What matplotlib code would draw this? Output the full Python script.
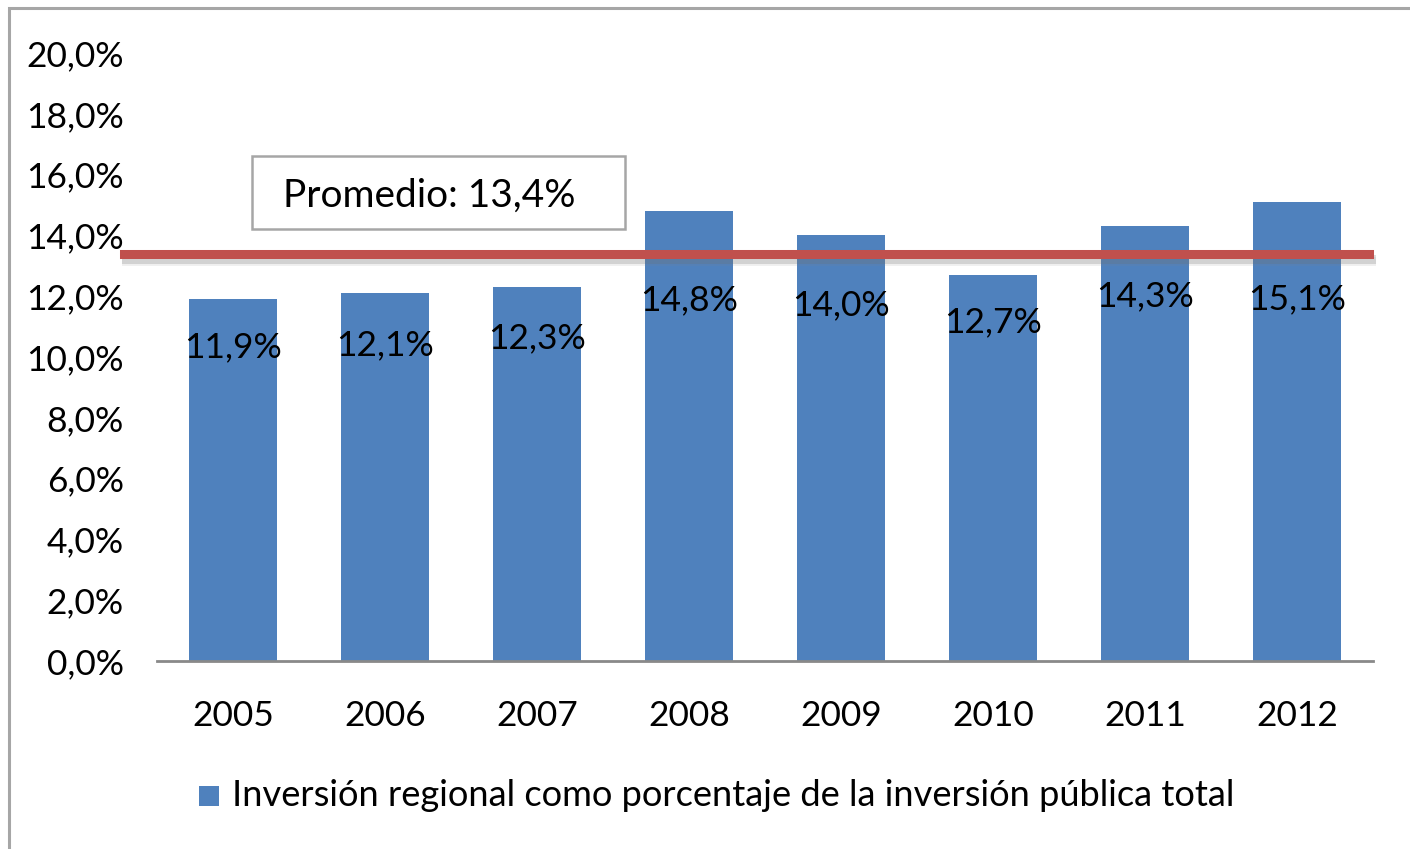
import matplotlib
matplotlib.use("Agg")
import matplotlib.pyplot as plt  # noqa: E402
import matplotlib.patheffects as pe  # noqa: E402
from matplotlib.patches import Rectangle  # noqa: E402

years = ["2005", "2006", "2007", "2008", "2009", "2010", "2011", "2012"]
share = [11.9, 12.1, 12.3, 14.8, 14.0, 12.7, 14.3, 15.1]
promedio = 13.4
serie = "Inversión regional como porcentaje de la inversión pública total"

# label heights were nudged by hand in the original so they sit under the red line
label_y = [10.33, 10.39, 10.62, 11.88, 11.71, 11.15, 12.0, 11.9]

BLUE = "#4F81BD"
RED = "#C0504D"
FONT = "Lato"
FS = 25.5


def pct(v):
    return f"{v:.1f}%".replace(".", ",")


W, H = 1410, 849
fig = plt.figure(figsize=(W / 100, H / 100), dpi=100)
fig.patch.set_facecolor("white")

# outer chart border (top and left visible, rest cut off)
fig.add_artist(Rectangle((9 / W, -0.05), 1.2, 1 - 8 / H + 0.05, transform=fig.transFigure,
                         fill=False, edgecolor="#A6A6A6", lw=2.2))

ax = fig.add_axes([157 / W, (H - 661) / H, 1216 / W, (661 - 53) / H])
x = range(len(years))
ax.bar(x, share, width=0.58, color=BLUE, zorder=2)
ax.set_xlim(-0.5, len(years) - 0.5)
ax.set_ylim(0, 20)
ax.set_yticks(range(0, 21, 2))
ax.set_yticklabels([pct(v) for v in range(0, 21, 2)])
ax.set_xticks(list(x))
ax.set_xticklabels(years)
ax.tick_params(axis="both", length=0, labelsize=FS)
ax.tick_params(axis="y", pad=24)
ax.tick_params(axis="x", pad=28)
for lab in ax.get_xticklabels() + ax.get_yticklabels():
    lab.set_fontfamily(FONT)
for s in ("top", "right", "left"):
    ax.spines[s].set_visible(False)
ax.spines["bottom"].set_color("#898989")
ax.spines["bottom"].set_linewidth(2)

for i, (v, yl) in enumerate(zip(share, label_y)):
    ax.text(i, yl, pct(v), ha="center", va="center", fontsize=FS, family=FONT, zorder=4)

ax.axhline(promedio, xmin=-0.027, xmax=0.997, color=RED, lw=6.5, clip_on=False, zorder=3,
           path_effects=[pe.SimpleLineShadow(offset=(1.5, -3.5), shadow_color="#666666", alpha=0.22),
                         pe.SimpleLineShadow(offset=(1.5, -5.5), shadow_color="#888888", alpha=0.12),
                         pe.Normal()])

# average box
fig.add_artist(Rectangle((252 / W, (H - 229) / H), 373 / W, 73 / H, transform=fig.transFigure,
                         facecolor="white", edgecolor="#A6A6A6", lw=1.8, zorder=5))
fig.text(283 / W, (H - 196) / H, f"Promedio: {pct(promedio)}", ha="left", va="center",
         fontsize=FS + 2.5, family=FONT, zorder=6)

# legend
fig.add_artist(Rectangle((199 / W, (H - 806) / H), 20 / W, 20 / H, transform=fig.transFigure,
                         facecolor=BLUE, edgecolor="none"))
fig.text(232 / W, (H - 795) / H, serie, ha="left", va="center", fontsize=FS + 0.6, family=FONT)

fig.savefig("out.png", dpi=100)
plt.close(fig)
